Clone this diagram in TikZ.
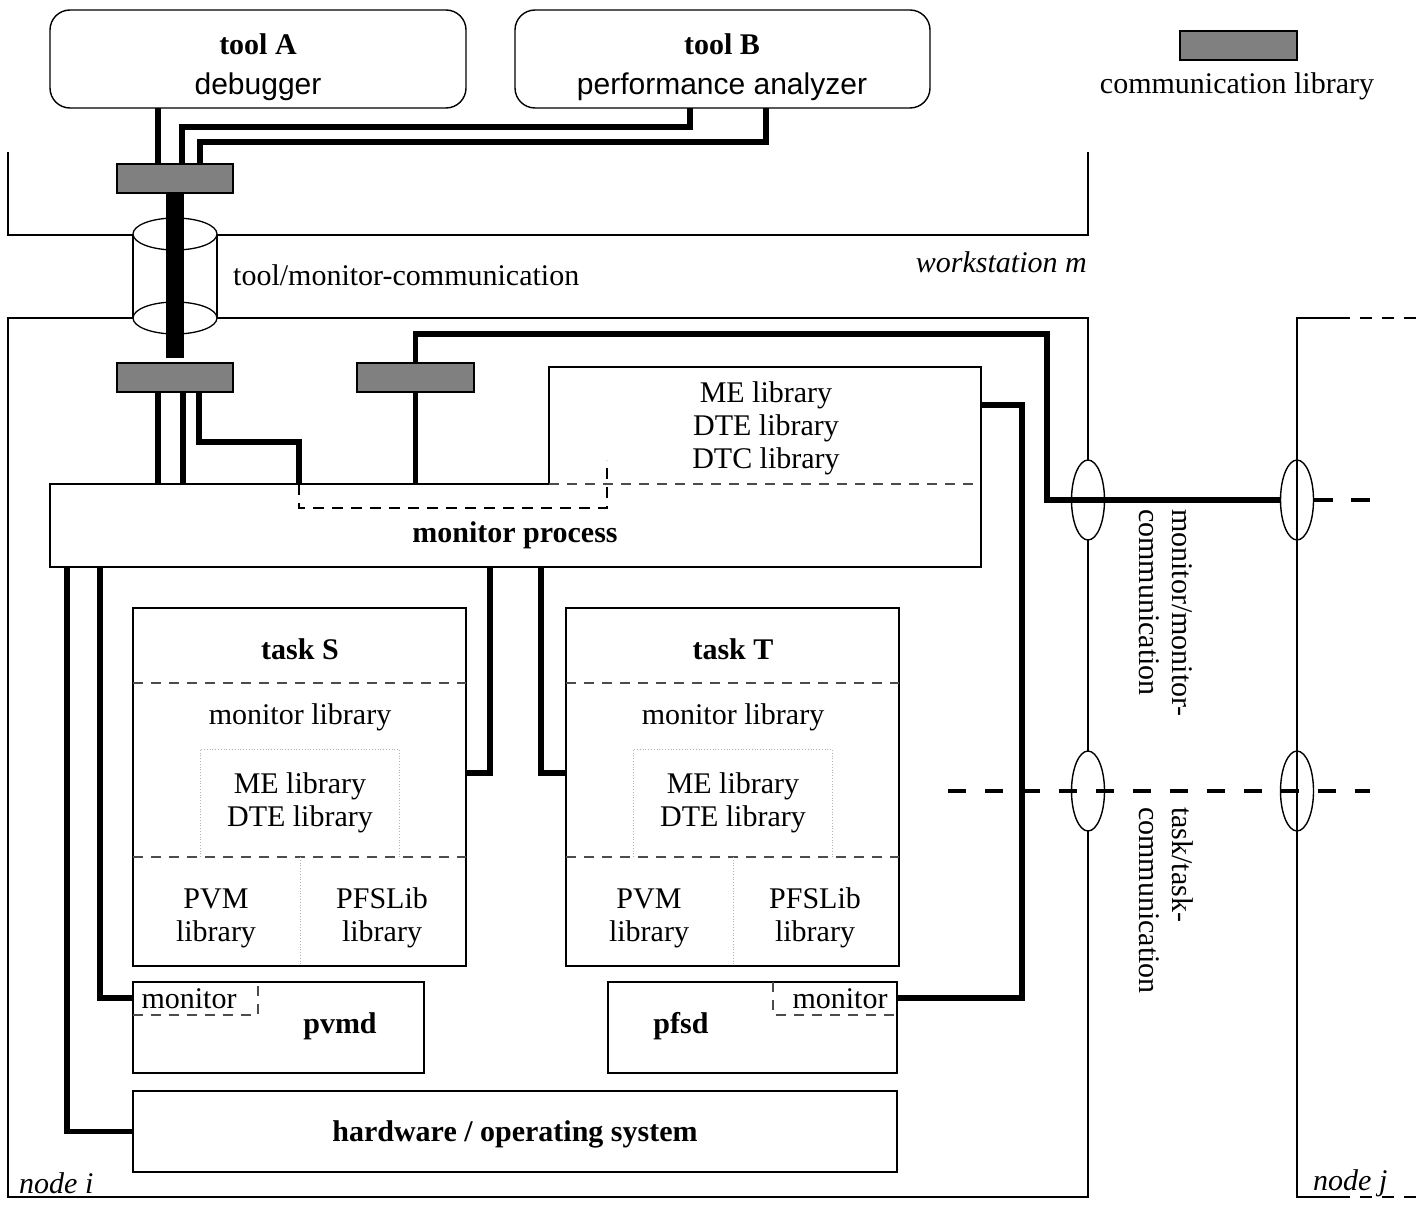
\documentclass[tikz,border=0pt]{standalone}
\usepackage{fontspec}
\setmainfont{Liberation Serif}
\newfontfamily\helvfont{Liberation Sans}
\usetikzlibrary{shapes.geometric}

\tikzset{
  box/.style={draw, line width=1.4pt, inner sep=0pt, outer sep=0pt, anchor=north west},
  commlib/.style={box, fill=gray, minimum width=116pt, minimum height=29pt},
  conn/.style={line width=5.5pt},
  frame/.style={line width=1.3pt},
  sep/.style={line width=1.3pt, black!70, dash pattern=on 10pt off 8pt},
  dotbox/.style={line width=0.8pt, black!30, dotted},
  bold/.style={font=\fontsize{30}{33}\selectfont\bfseries},
  ital/.style={font=\fontsize{30}{33}\selectfont\itshape},
  chan/.style={ellipse, draw, line width=1.4pt, inner sep=0pt, minimum width=33pt, minimum height=80pt},
}

\begin{document}
\begin{tikzpicture}[x=1pt, y=-1pt, every node/.style={font=\fontsize{30}{33}\selectfont, inner sep=0pt}]
\useasboundingbox (0,0) rectangle (1426,1209);

% tools on workstation m
\node[box, rounded corners=20pt, minimum width=416pt, minimum height=98pt] (toolA) at (50,10) {};
\node[box, rounded corners=20pt, minimum width=415pt, minimum height=98pt] (toolB) at (515,10) {};
\node[bold] (toolAname) at (258,44) {tool A};
\node[font=\fontsize{30}{33}\selectfont\helvfont] (toolAtext) at (258,87) {debugger};
\node[bold] (toolBname) at (722,44) {tool B};
\node[font=\fontsize{30}{33}\selectfont\helvfont] (toolBtext) at (722,87) {performance analyzer};

\draw[frame] (8,152) |- (1088,235) -- (1088,152);
\node[ital, anchor=east] (wsname) at (1087,262) {workstation m};

% legend
\node[commlib, minimum width=117pt] (legendlib) at (1180,31) {};
\node (legendtext) at (1237,86) {communication library};

% node i and node j
\draw[frame] (8,318) rectangle (1088,1197);
\draw[frame] (1338,318) -| (1297,1197) -- (1338,1197);
\draw[frame, dash pattern=on 12pt off 10pt] (1338,318) -- (1426,318) (1338,1197) -- (1426,1197);
\node[ital, anchor=west] (nodei) at (19,1183) {node i};
\node[ital, anchor=west] (nodej) at (1313,1183) {node j};

% tool/monitor channel
\fill[white] (133,234) rectangle (217,318);
\draw[frame, fill=white] (175,318) ellipse [x radius=42, y radius=16];
\draw[frame] (133,234) -- (133,318) (217,234) -- (217,318);
\draw[frame, fill=white] (175,234) ellipse [x radius=42, y radius=16];
\node[anchor=west] (tmcomm) at (233,275) {tool/monitor-communication};

% communication libraries
\node[commlib] (libW) at (117,164) {};
\node[commlib] (libM1) at (117,363) {};
\node[commlib, minimum width=117pt] (libM2) at (357,363) {};

% monitor process
\node[box, draw=none, minimum width=931pt, minimum height=83pt] (mon) at (50,484) {};
\node[box, draw=none, minimum width=432pt, minimum height=117pt] (melib) at (549,367) {};
\draw[frame] (melib.south west) |- (melib.north east) -- (mon.south east) -| (mon.north west) -- (melib.south west);
\draw[sep] (melib.south west) -- (melib.south east);
\node[align=center] (melibtext) at (766,428) {ME library\\DTE library\\DTC library};
\node[bold] (montext) at (515,535) {monitor process};

% tasks
\foreach \nm/\dx in {S/0, T/433} {
  \node[box, minimum width=333pt, minimum height=358pt] (task\nm) at (133+\dx,608) {};
  \draw[sep] (133+\dx,683) -- ++(333,0) (133+\dx,857) -- ++(333,0);
  \draw[dotbox] (200+\dx,857) |- (399+\dx,749) -- (399+\dx,857);
  \draw[dotbox] (300+\dx,857) -- (300+\dx,966);
  \node[bold] (title\nm) at (300+\dx,649) {task \nm};
  \node (monlib\nm) at (300+\dx,717) {monitor library};
  \node[align=center] (melib\nm) at (300+\dx,803) {ME library\\DTE library};
  \node[align=center] (pvm\nm) at (216+\dx,918) {PVM\\library};
  \node[align=center] (pfs\nm) at (382+\dx,918) {PFSLib\\library};
}

% daemons
\node[box, minimum width=291pt, minimum height=91pt] (pvmd) at (133,982) {};
\draw[sep] (pvmd.west |- 0,1015) -| (258,982);
\node (pvmdmon) at (189,999) {monitor};
\node[bold] (pvmdname) at (340,1026) {pvmd};
\node[box, minimum width=289pt, minimum height=91pt] (pfsd) at (608,982) {};
\draw[sep] (773,982) |- (pfsd.east |- 0,1015);
\node (pfsdmon) at (840,999) {monitor};
\node[bold] (pfsdname) at (681,1026) {pfsd};

% hardware
\node[box, minimum width=764pt, minimum height=81pt] (hw) at (133,1091) {};
\node[bold] (hwtext) at (515,1134) {hardware / operating system};

% channels between the nodes
\node[chan, fill=white] (ei1) at (1088,500) {};
\node[chan, fill=white] (ei2) at (1088,791) {};
\node[chan] (ej1) at (1297,500) {};
\node[chan] (ej2) at (1297,791) {};
\node[rotate=-90, anchor=north west, align=left] (mmcomm) at (1193,509) {monitor/monitor-\\communication};
\node[rotate=-90, anchor=north west, align=left] (ttcomm) at (1193,807) {task/task-\\communication};

% connections
\draw[conn] (toolA.south -| 158,0) -- (libW.north -| 158,0);
\draw[conn] (toolB.south -| 690,0) |- (182,127) -- (libW.north -| 182,0);
\draw[conn] (toolB.south -| 766,0) |- (200,142) -- (libW.north -| 200,0);
\draw[line width=18pt, shorten >=5pt] (libW.south) -- (libM1.north);
\draw[conn] (libM1.south -| 158,0) -- (mon.north -| 158,0);
\draw[conn] (libM1.south -| 183,0) -- (mon.north -| 183,0);
\draw[conn] (libM1.south -| 199,0) |- (299,442) -- (mon.north -| 299,0);
\draw[line width=2.5pt, dash pattern=on 11pt off 8pt] (mon.north -| 299,0) |- (607,508) -- (607,460);
\draw[conn] (libM2.south) -- (mon.north -| libM2.south);
\draw[conn] (libM2.north) |- (1047,334) |- (ej1.west);
\draw[line width=4pt, dash pattern=on 19pt off 18pt] (ej1.east) -- (1370,500);
\draw[line width=4pt, dash pattern=on 18pt off 19pt] (948,791) -- (1370,791);
\draw[conn] (melib.east |- 0,405) -| (1022,998) -- (pfsd.east |- 0,998);
\draw[conn] (mon.south -| 490,0) |- (taskS.east |- 0,773);
\draw[conn] (mon.south -| 541,0) |- (taskT.west |- 0,773);
\draw[conn] (mon.south -| 100,0) |- (pvmd.west |- 0,998);
\draw[conn] (mon.south -| 67,0) |- (hw.west);
\end{tikzpicture}
\end{document}
